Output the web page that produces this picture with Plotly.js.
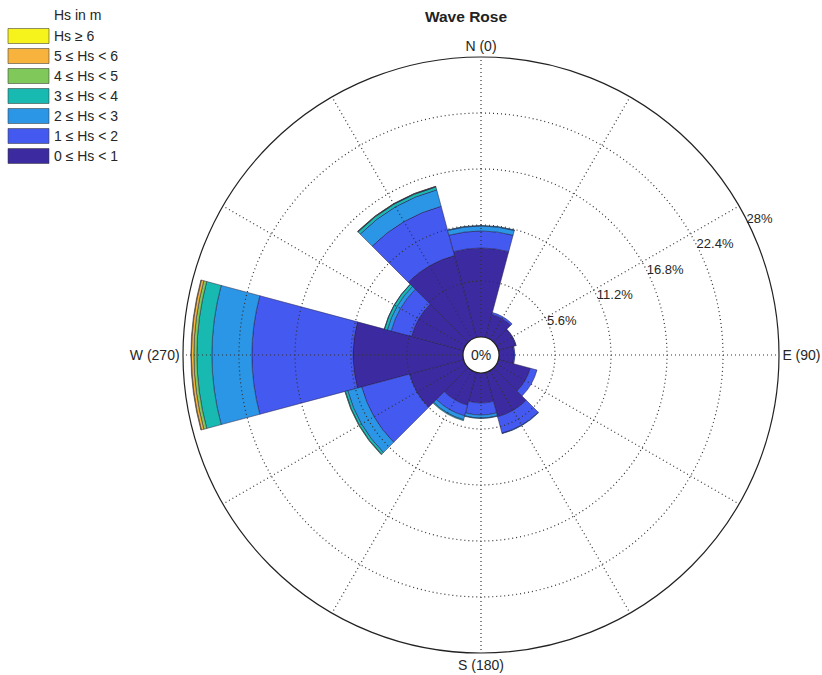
<!DOCTYPE html>
<html>
<head>
<meta charset="utf-8">
<script src="https://cdn.plot.ly/plotly-3.0.1.min.js"></script>
<style>html,body{margin:0;padding:0;background:#fff;}#chart{width:822px;height:675px;}</style>
</head>
<body>
<div id="chart"></div>
<script>
// Direction sectors (degrees, clockwise from North)
const directions = [0, 30, 60, 90, 120, 150, 180, 210, 240, 270, 300, 330];
// Bin labels (bottom to top of stack)
const binLabels = ["0 ≤ Hs < 1", "1 ≤ Hs < 2", "2 ≤ Hs < 3", "3 ≤ Hs < 4", "4 ≤ Hs < 5", "5 ≤ Hs < 6", "Hs ≥ 6"];
const binColors = ["#3b2aa0", "#4459f0", "#2b95e6", "#17b9b0", "#80c85a", "#f8b33e", "#f6f21c"];
// Frequencies (%) per direction for each Hs bin
const hs0to1 = [8.9, 2.4, 1.8, 1.5, 3.3, 4.6, 3.0, 3.4, 5.6, 11.0, 5.4, 8.5];
const hs1to2 = [1.7, 0.2, 0.05, 0.1, 0.7, 1.7, 1.2, 1.1, 4.95, 10.1, 2.1, 5.1];
const hs2to3 = [0.5, 0, 0, 0, 0, 0.05, 0.3, 0.4, 1.45, 4.0, 0.4, 1.7];
const hs3to4 = [0.05, 0, 0, 0, 0, 0, 0.05, 0.1, 0.25, 1.5, 0.3, 0.3];
const hs4to5 = [0, 0, 0, 0, 0, 0, 0, 0, 0.05, 0.3, 0.02, 0.05];
const hs5to6 = [0, 0, 0, 0, 0, 0, 0, 0, 0, 0.25, 0, 0.02];
const hs6up  = [0, 0, 0, 0, 0, 0, 0, 0, 0, 0.05, 0, 0];
const binValues = [hs0to1, hs1to2, hs2to3, hs3to4, hs4to5, hs5to6, hs6up];

// Axis ticks
const ringVals = [5.6, 11.2, 16.8, 22.4, 28];
const ringLabels = ["5.6%", "11.2%", "16.8%", "22.4%", "28%"];
const gridAngles = [0, 30, 60, 90, 120, 150, 180, 210, 240, 270, 300, 330];
const gridAngleText = ["N (0)", "", "", "E (90)", "", "", "S (180)", "", "", "W (270)", "", ""];
const rMax = 28;

const FONT = "Liberation Sans, Arial, Helvetica, sans-serif";
const traces = [];
binValues.forEach((vals, i) => {
  traces.push({
    type: "barpolar",
    r: vals,
    theta: directions,
    width: directions.map(() => 30),
    name: binLabels[i],
    marker: {color: binColors[i], line: {color: "rgba(35,30,70,0.85)", width: 0.6}},
    showlegend: false,
    hoverinfo: "skip"
  });
});

// dotted grid drawn on top of the bars
const dotLine = {color: "#333333", width: 1.2, dash: "1px,3px"};
gridAngles.forEach(a => {
  traces.push({type: "scatterpolar", mode: "lines", r: [0, rMax], theta: [a, a],
    line: dotLine, showlegend: false, hoverinfo: "skip"});
});
ringVals.slice(0, -1).forEach(v => {
  const th = [], rr = [];
  for (let t = 0; t <= 360; t += 1) { th.push(t); rr.push(v); }
  traces.push({type: "scatterpolar", mode: "lines", r: rr, theta: th,
    line: dotLine, showlegend: false, hoverinfo: "skip"});
});
// radial tick labels
traces.push({type: "scatterpolar", mode: "text", r: ringVals, theta: ringVals.map(() => 63),
  text: ringLabels, textposition: "middle right",
  textfont: {family: FONT, size: 13, color: "#262626"},
  showlegend: false, hoverinfo: "skip", cliponaxis: false});

// Layout geometry
const W = 822, H = 675;
const M = {l: 183, r: 43, t: 57, b: 22};
const pw = W - M.l - M.r, ph = H - M.t - M.b;
const px2x = px => (px - M.l) / pw;
const py2y = py => (H - M.b - py) / ph;

const shapes = [], annotations = [];
// custom legend (top item = highest bin)
annotations.push({xref: "paper", yref: "paper", x: px2x(52), y: py2y(15), xanchor: "left", yanchor: "middle",
  text: "Hs in m", showarrow: false, font: {family: FONT, size: 14, color: "#262626"}});
for (let k = 0; k < binLabels.length; k++) {
  const idx = binLabels.length - 1 - k;
  const cy = 36 + k * 20;
  shapes.push({type: "rect", xref: "paper", yref: "paper",
    x0: px2x(8), x1: px2x(49), y0: py2y(cy - 7.5), y1: py2y(cy + 7.5),
    fillcolor: binColors[idx], line: {color: "rgba(60,60,60,0.7)", width: 0.8}});
  annotations.push({xref: "paper", yref: "paper", x: px2x(52), y: py2y(cy), xanchor: "left", yanchor: "middle",
    text: binLabels[idx], showarrow: false, font: {family: FONT, size: 14, color: "#262626"}});
}
// center label
annotations.push({xref: "paper", yref: "paper", x: 0.5, y: 0.5, xanchor: "center", yanchor: "middle",
  text: "0%", showarrow: false, font: {family: FONT, size: 14, color: "#262626"}});

const layout = {
  width: W, height: H,
  margin: M,
  paper_bgcolor: "#fff",
  showlegend: false,
  title: {text: "<b>Wave Rose</b>", x: 466 / W, xref: "container", xanchor: "center",
    y: 1 - 17 / H, yref: "container", yanchor: "middle",
    font: {family: FONT, size: 15.5, color: "#222"}},
  polar: {
    domain: {x: [0, 1], y: [0, 1]},
    bgcolor: "#fff",
    hole: 18 / 298,
    barmode: "stack",
    bargap: 0,
    radialaxis: {range: [0, rMax], tickvals: ringVals, showticklabels: false, showgrid: false,
      showline: false, ticks: "", angle: 30},
    angularaxis: {direction: "clockwise", rotation: 90, tickmode: "array", tickvals: gridAngles,
      ticktext: gridAngleText, showgrid: false, ticks: "", showline: true, linecolor: "#222", linewidth: 1.2,
      tickfont: {family: FONT, size: 14, color: "#262626"}}
  },
  shapes: shapes,
  annotations: annotations
};

Plotly.newPlot("chart", traces, layout, {displayModeBar: false, staticPlot: true});
</script>
</body>
</html>
